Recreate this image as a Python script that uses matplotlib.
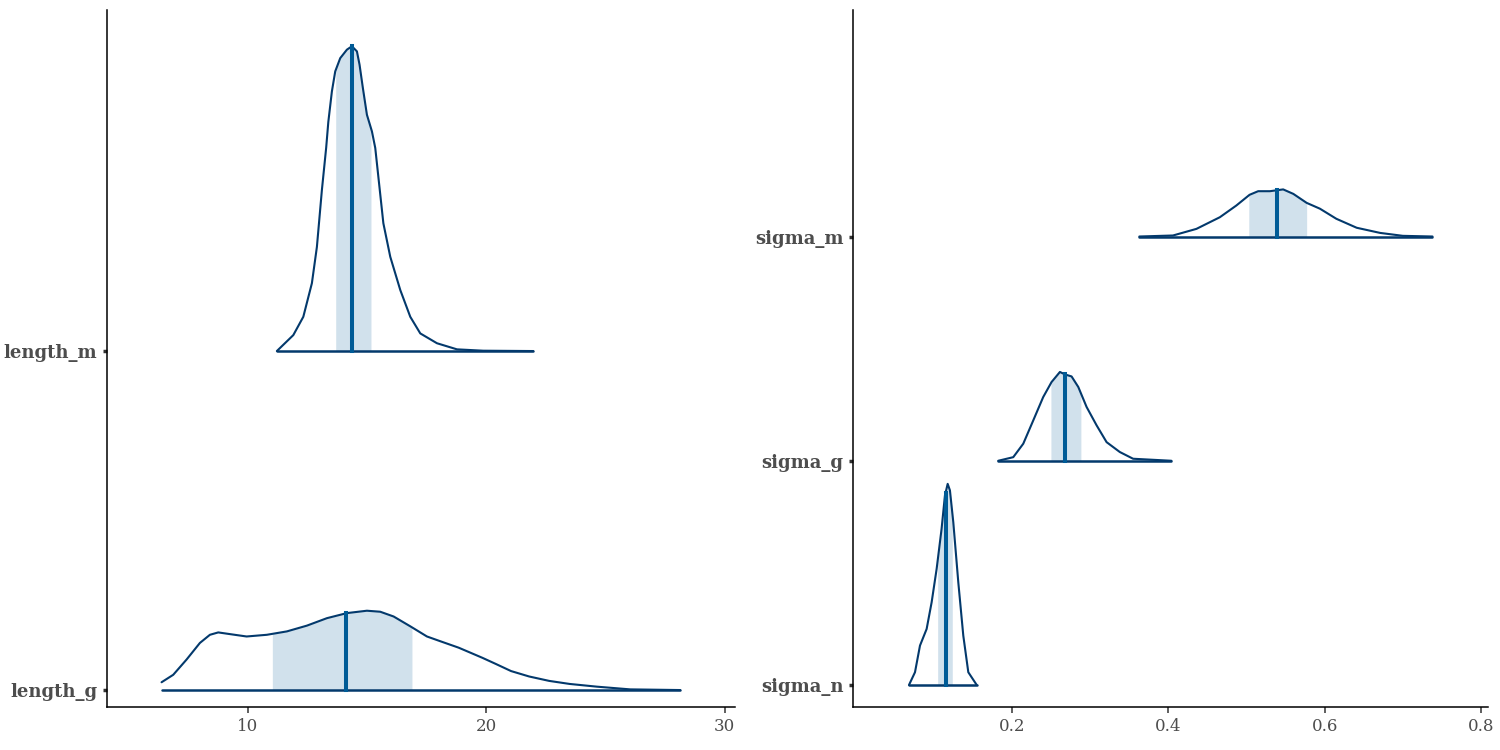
import matplotlib

matplotlib.use("Agg")

import matplotlib.pyplot as plt
import numpy as np

# posterior density outlines (x value, scaled height)
length_g_x = [6.37, 6.86, 7.42, 7.98, 8.40, 8.75, 9.24, 9.94, 10.79, 11.63, 12.47, 13.31, 14.15,
              14.99, 15.55, 16.11, 16.81, 17.51, 18.07, 18.84, 19.84, 20.4, 21.04, 21.8, 22.64,
              23.5, 24.64, 26.04, 28.14]
length_g_h = [0.023, 0.045, 0.090, 0.139, 0.163, 0.170, 0.165, 0.158, 0.163, 0.173, 0.190, 0.212, 0.227,
              0.234, 0.231, 0.217, 0.188, 0.158, 0.144, 0.125, 0.095, 0.077, 0.056, 0.040, 0.027,
              0.018, 0.010, 0.002, 0.0]
length_m_x = [11.21, 11.90, 12.32, 12.68, 12.89, 13.10, 13.28, 13.37, 13.52, 13.66, 13.87, 14.15,
              14.36, 14.57, 14.68, 14.82, 14.99, 15.20, 15.34, 15.47, 15.68, 15.97, 16.39, 16.81,
              17.23, 17.93, 18.77, 19.87, 21.97]
length_m_h = [0.0, 0.047, 0.101, 0.200, 0.307, 0.475, 0.600, 0.676, 0.766, 0.825, 0.864, 0.889,
              0.899, 0.884, 0.845, 0.776, 0.697, 0.648, 0.599, 0.514, 0.377, 0.278, 0.180, 0.101,
              0.052, 0.023, 0.005, 0.001, 0.0]
sigma_n_x = [0.0683, 0.0760, 0.0824, 0.0909, 0.0973, 0.1037, 0.1100, 0.1143, 0.1178, 0.1207,
             0.1250, 0.1314, 0.1378, 0.1442, 0.1550]
sigma_n_h = [0.0, 0.057, 0.176, 0.250, 0.369, 0.518, 0.696, 0.845, 0.897, 0.868,
             0.726, 0.458, 0.220, 0.057, 0.0]
sigma_g_x = [0.1825, 0.2017, 0.2145, 0.2273, 0.2400, 0.2507, 0.2614, 0.2678, 0.2763, 0.2849,
             0.2955, 0.3083, 0.3211, 0.3380, 0.3550, 0.4040]
sigma_g_h = [0.0, 0.016, 0.076, 0.180, 0.284, 0.351, 0.396, 0.385, 0.376, 0.329,
             0.240, 0.158, 0.083, 0.039, 0.009, 0.0]
sigma_m_x = [0.363, 0.406, 0.436, 0.466, 0.487, 0.504, 0.515, 0.530, 0.547, 0.560, 0.577,
             0.594, 0.615, 0.641, 0.671, 0.700, 0.738]
sigma_m_h = [0.0, 0.0045, 0.034, 0.086, 0.138, 0.186, 0.202, 0.202, 0.210, 0.190, 0.150,
             0.124, 0.079, 0.039, 0.016, 0.003, 0.0]

# inner interval (low, high) and median
length_g_ci = (11.02, 16.88, 14.12)
length_m_ci = (13.68, 15.16, 14.36)
sigma_n_ci = (0.105, 0.1237, 0.1152)
sigma_g_ci = (0.2499, 0.2882, 0.2678)
sigma_m_ci = (0.503, 0.577, 0.539)

left_params = ["length_g", "length_m"]
right_params = ["sigma_n", "sigma_g", "sigma_m"]
curves = {
    "length_g": (length_g_x, length_g_h, length_g_ci),
    "length_m": (length_m_x, length_m_h, length_m_ci),
    "sigma_n": (sigma_n_x, sigma_n_h, sigma_n_ci),
    "sigma_g": (sigma_g_x, sigma_g_h, sigma_g_ci),
    "sigma_m": (sigma_m_x, sigma_m_h, sigma_m_ci),
}

FILL = "#d1e1ec"
OUTLINE = "#03396c"
MEDIAN = "#005b96"
TEXT = "#4d4d4d"

plt.rcParams["font.family"] = ["DejaVu Serif"]


def draw_panel(ax, params, xlim, ylim, xticks):
    for k, name in enumerate(params, start=1):
        xs, hs, (lo, hi, med) = curves[name]
        xs = np.asarray(xs)
        hs = np.asarray(hs)
        inner = np.concatenate([[lo], xs[(xs > lo) & (xs < hi)], [hi]])
        ax.fill_between(inner, k, k + np.interp(inner, xs, hs), color=FILL, linewidth=0, zorder=1)
        ax.plot(xs, k + hs, color=OUTLINE, linewidth=1.5, zorder=3,
                solid_capstyle="round", solid_joinstyle="round")
        ax.plot([xs[0], xs[-1]], [k, k], color=OUTLINE, linewidth=1.8, zorder=3, solid_capstyle="round")
        ax.plot([med, med], [k, k + np.interp(med, xs, hs)], color=MEDIAN, linewidth=2.9, zorder=4)
    ax.set_xlim(*xlim)
    ax.set_ylim(*ylim)
    ax.set_xticks(xticks)
    ax.set_xticklabels([f"{t:g}" for t in xticks])
    ax.set_yticks(range(1, len(params) + 1))
    ax.set_yticklabels(params, fontweight="bold")
    for side in ("top", "right"):
        ax.spines[side].set_visible(False)
    for side in ("left", "bottom"):
        ax.spines[side].set_linewidth(1.1)
        ax.spines[side].set_color("black")
    ax.tick_params(axis="x", labelsize=12, colors="#333333", labelcolor=TEXT, length=4, width=1.1, pad=4)
    ax.tick_params(axis="y", labelsize=13, colors="#333333", labelcolor=TEXT, length=3, width=2.5, pad=4)


fig = plt.figure(figsize=(15, 7.5), dpi=100)
ax_left = fig.add_axes([107 / 1500, 43 / 750, 628 / 1500, 697 / 750])
ax_right = fig.add_axes([853 / 1500, 43 / 750, 635 / 1500, 697 / 750])

draw_panel(ax_left, left_params, (4.08, 30.44), (0.95, 3.006), [10, 20, 30])
draw_panel(ax_right, right_params, (-0.0033, 0.809), (0.902, 4.01), [0.2, 0.4, 0.6, 0.8])

fig.savefig("out.png", dpi=100)
plt.close(fig)
